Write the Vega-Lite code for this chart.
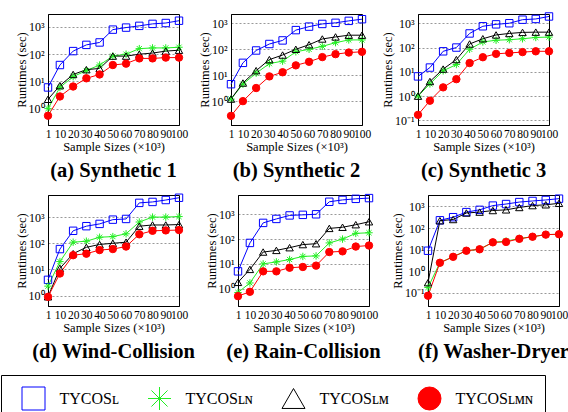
{
  "$schema": "https://vega.github.io/schema/vega-lite/v6.json",
  "background": "white",
  "padding": {"left": 0, "top": 10, "right": 0, "bottom": 0},
  "data": {"values": [
    {"p":"a","x":1,"L":6,"LN":1.0,"LM":2.2,"LMN":0.55},
    {"p":"a","x":10,"L":40,"LN":6,"LM":7,"LMN":2.8},
    {"p":"a","x":20,"L":130,"LN":15,"LM":18,"LMN":6.5},
    {"p":"a","x":30,"L":220,"LN":25,"LM":27,"LMN":13},
    {"p":"a","x":40,"L":270,"LN":40,"LM":30,"LMN":18},
    {"p":"a","x":50,"L":800,"LN":85,"LM":85,"LMN":40},
    {"p":"a","x":60,"L":950,"LN":100,"LM":85,"LMN":45},
    {"p":"a","x":70,"L":1100,"LN":160,"LM":100,"LMN":70},
    {"p":"a","x":80,"L":1300,"LN":170,"LM":110,"LMN":70},
    {"p":"a","x":90,"L":1400,"LN":170,"LM":130,"LMN":75},
    {"p":"a","x":100,"L":1700,"LN":180,"LM":140,"LMN":75},
    {"p":"b","x":1,"L":4.5,"LN":1.2,"LM":1.2,"LMN":0.27},
    {"p":"b","x":10,"L":30,"LN":4.5,"LM":5,"LMN":1.0},
    {"p":"b","x":20,"L":90,"LN":12,"LM":15,"LMN":3.2},
    {"p":"b","x":30,"L":160,"LN":28,"LM":40,"LMN":9},
    {"p":"b","x":40,"L":220,"LN":35,"LM":60,"LMN":13},
    {"p":"b","x":50,"L":550,"LN":80,"LM":100,"LMN":24},
    {"p":"b","x":60,"L":750,"LN":100,"LM":150,"LMN":33},
    {"p":"b","x":70,"L":950,"LN":130,"LM":250,"LMN":50},
    {"p":"b","x":80,"L":1050,"LN":180,"LM":300,"LMN":65},
    {"p":"b","x":90,"L":1250,"LN":230,"LM":350,"LMN":75},
    {"p":"b","x":100,"L":1450,"LN":230,"LM":350,"LMN":80},
    {"p":"c","x":1,"L":6.5,"LN":1.0,"LM":1.0,"LMN":0.17},
    {"p":"c","x":10,"L":15,"LN":3.2,"LM":4,"LMN":0.65},
    {"p":"c","x":20,"L":70,"LN":11,"LM":13,"LMN":2.3},
    {"p":"c","x":30,"L":100,"LN":20,"LM":32,"LMN":5},
    {"p":"c","x":40,"L":380,"LN":85,"LM":140,"LMN":23},
    {"p":"c","x":50,"L":750,"LN":170,"LM":230,"LMN":40},
    {"p":"c","x":60,"L":900,"LN":200,"LM":330,"LMN":55},
    {"p":"c","x":70,"L":1000,"LN":210,"LM":380,"LMN":60},
    {"p":"c","x":80,"L":1400,"LN":230,"LM":420,"LMN":65},
    {"p":"c","x":90,"L":1500,"LN":260,"LM":430,"LMN":70},
    {"p":"c","x":100,"L":1900,"LN":270,"LM":430,"LMN":70},
    {"p":"d","x":1,"L":4,"LN":2.3,"LM":0.9,"LMN":0.9},
    {"p":"d","x":10,"L":60,"LN":20,"LM":11,"LMN":7},
    {"p":"d","x":20,"L":300,"LN":110,"LM":40,"LMN":35},
    {"p":"d","x":30,"L":450,"LN":120,"LM":70,"LMN":40},
    {"p":"d","x":40,"L":550,"LN":170,"LM":90,"LMN":55},
    {"p":"d","x":50,"L":800,"LN":180,"LM":100,"LMN":60},
    {"p":"d","x":60,"L":850,"LN":230,"LM":110,"LMN":75},
    {"p":"d","x":70,"L":3500,"LN":650,"LM":450,"LMN":220},
    {"p":"d","x":80,"L":3800,"LN":1000,"LM":500,"LMN":300},
    {"p":"d","x":90,"L":4500,"LN":1000,"LM":500,"LMN":310},
    {"p":"d","x":100,"L":5500,"LN":1050,"LM":520,"LMN":320},
    {"p":"e","x":1,"L":5,"LN":0.7,"LM":1.8,"LMN":0.5},
    {"p":"e","x":10,"L":70,"LN":1.7,"LM":6,"LMN":0.75},
    {"p":"e","x":20,"L":450,"LN":10,"LM":30,"LMN":5},
    {"p":"e","x":30,"L":650,"LN":12,"LM":35,"LMN":5},
    {"p":"e","x":40,"L":900,"LN":15,"LM":45,"LMN":7},
    {"p":"e","x":50,"L":950,"LN":20,"LM":60,"LMN":7.5},
    {"p":"e","x":60,"L":1000,"LN":21,"LM":65,"LMN":8.5},
    {"p":"e","x":70,"L":3200,"LN":70,"LM":270,"LMN":30},
    {"p":"e","x":80,"L":3800,"LN":100,"LM":300,"LMN":32},
    {"p":"e","x":90,"L":4200,"LN":170,"LM":380,"LMN":50},
    {"p":"e","x":100,"L":4500,"LN":180,"LM":500,"LMN":55},
    {"p":"f","x":1,"L":9,"LN":0.18,"LM":0.3,"LMN":0.075},
    {"p":"f","x":10,"L":230,"LN":2.5,"LM":220,"LMN":2.5},
    {"p":"f","x":20,"L":320,"LN":4.8,"LM":250,"LMN":4.7},
    {"p":"f","x":30,"L":550,"LN":9,"LM":500,"LMN":9},
    {"p":"f","x":40,"L":700,"LN":10.5,"LM":550,"LMN":10.5},
    {"p":"f","x":50,"L":1100,"LN":22,"LM":650,"LMN":22},
    {"p":"f","x":60,"L":1300,"LN":25,"LM":700,"LMN":23},
    {"p":"f","x":70,"L":1600,"LN":33,"LM":900,"LMN":32},
    {"p":"f","x":80,"L":1800,"LN":40,"LM":1100,"LMN":40},
    {"p":"f","x":90,"L":2000,"LN":50,"LM":1200,"LMN":50},
    {"p":"f","x":100,"L":2300,"LN":52,"LM":1400,"LMN":52}
  ]},
  "transform": [{"fold": ["L", "LN", "LM", "LMN"], "as": ["series", "y"]}],
  "spacing": 9,
  "resolve": {"scale": {"x": "independent", "y": "independent"}},
  "vconcat": [
    {
      "spacing": 8,
      "resolve": {"scale": {"x": "independent", "y": "independent"}},
      "hconcat": [
        {
          "width": 131, "height": 111,
          "title": {"text": "(a) Synthetic 1"},
          "transform": [{"filter": "datum.p === 'a'"}],
          "encoding": {
            "x": {"field": "x", "type": "quantitative", "scale": {"domain": [1, 100], "nice": false, "zero": false}, "axis": {"values": [1,10,20,30,40,50,60,70,80,90,100], "title": "Sample Sizes (×10³)"}},
            "y": {"field": "y", "type": "quantitative", "scale": {"type": "log", "domain": [0.25, 3000], "nice": false}, "axis": {"values": [1,10,100,1000], "title": "Runtimes (sec)", "labelExpr": "datum.value < 0.5 ? '10⁻¹' : datum.value < 5 ? '10⁰' : datum.value < 50 ? '10¹' : datum.value < 500 ? '10²' : '10³'"}},
            "stroke": {"field": "series", "type": "nominal", "scale": {"domain": ["L","LN","LM","LMN"], "range": ["#0000ff","#22ee22","#000000","#ff0000"]},
              "legend": {"title": null, "labelExpr": "datum.value === 'L' ? 'TYCOSʟ' : datum.value === 'LN' ? 'TYCOSʟɴ' : datum.value === 'LM' ? 'TYCOSʟᴍ' : 'TYCOSʟᴍɴ'",
                "encode": {"symbols": {"update": {
                  "shape": {"signal": "datum.value === 'L' ? 'M-1.96,0H1.96M-1,-1H1V1H-1Z' : datum.value === 'LN' ? 'M-1.96,0H1.96M0,-0.95V0.95M-0.65,-0.55L0.65,0.55M-0.65,0.55L0.65,-0.55' : datum.value === 'LM' ? 'M-1.96,0H1.96M0,-1.48L1.35,0.52H-1.35Z' : 'M-1.96,0H1.96M0.91,0A0.91,0.91,0,1,1,-0.91,0A0.91,0.91,0,1,1,0.91,0Z'"},
                  "fill": {"signal": "datum.value === 'LMN' ? '#ff0000' : 'transparent'"},
                  "strokeWidth": {"value": 1}
                }}}}}
          },
          "layer": [
            {"mark": {"type": "line", "strokeWidth": 1}},
            {"mark": {"type": "point", "size": 55, "strokeWidth": 1, "opacity": 1},
             "encoding": {
               "shape": {"field": "series", "type": "nominal", "scale": {"domain": ["L","LN","LM","LMN"], "range": ["square","M-1,0H1M0,-1V1M-0.7,-0.7L0.7,0.7M-0.7,0.7L0.7,-0.7","triangle-up","circle"]}, "legend": null},
               "fill": {"field": "series", "type": "nominal", "scale": {"domain": ["L","LN","LM","LMN"], "range": ["transparent","transparent","transparent","#ff0000"]}, "legend": null}
             }}
          ]
        },
        {
          "width": 131, "height": 111,
          "title": {"text": "(b) Synthetic 2"},
          "transform": [{"filter": "datum.p === 'b'"}],
          "encoding": {
            "x": {"field": "x", "type": "quantitative", "scale": {"domain": [1, 100], "nice": false, "zero": false}, "axis": {"values": [1,10,20,30,40,50,60,70,80,90,100], "title": "Sample Sizes (×10³)"}},
            "y": {"field": "y", "type": "quantitative", "scale": {"type": "log", "domain": [0.12, 2300], "nice": false}, "axis": {"values": [1,10,100,1000], "title": "Runtimes (sec)", "labelExpr": "datum.value < 0.5 ? '10⁻¹' : datum.value < 5 ? '10⁰' : datum.value < 50 ? '10¹' : datum.value < 500 ? '10²' : '10³'"}},
            "stroke": {"field": "series", "type": "nominal", "scale": {"domain": ["L","LN","LM","LMN"], "range": ["#0000ff","#22ee22","#000000","#ff0000"]},
              "legend": {"title": null, "labelExpr": "datum.value === 'L' ? 'TYCOSʟ' : datum.value === 'LN' ? 'TYCOSʟɴ' : datum.value === 'LM' ? 'TYCOSʟᴍ' : 'TYCOSʟᴍɴ'",
                "encode": {"symbols": {"update": {
                  "shape": {"signal": "datum.value === 'L' ? 'M-1.96,0H1.96M-1,-1H1V1H-1Z' : datum.value === 'LN' ? 'M-1.96,0H1.96M0,-0.95V0.95M-0.65,-0.55L0.65,0.55M-0.65,0.55L0.65,-0.55' : datum.value === 'LM' ? 'M-1.96,0H1.96M0,-1.48L1.35,0.52H-1.35Z' : 'M-1.96,0H1.96M0.91,0A0.91,0.91,0,1,1,-0.91,0A0.91,0.91,0,1,1,0.91,0Z'"},
                  "fill": {"signal": "datum.value === 'LMN' ? '#ff0000' : 'transparent'"},
                  "strokeWidth": {"value": 1}
                }}}}}
          },
          "layer": [
            {"mark": {"type": "line", "strokeWidth": 1}},
            {"mark": {"type": "point", "size": 55, "strokeWidth": 1, "opacity": 1},
             "encoding": {
               "shape": {"field": "series", "type": "nominal", "scale": {"domain": ["L","LN","LM","LMN"], "range": ["square","M-1,0H1M0,-1V1M-0.7,-0.7L0.7,0.7M-0.7,0.7L0.7,-0.7","triangle-up","circle"]}, "legend": null},
               "fill": {"field": "series", "type": "nominal", "scale": {"domain": ["L","LN","LM","LMN"], "range": ["transparent","transparent","transparent","#ff0000"]}, "legend": null}
             }}
          ]
        },
        {
          "width": 131, "height": 111,
          "title": {"text": "(c) Synthetic 3"},
          "transform": [{"filter": "datum.p === 'c'"}],
          "encoding": {
            "x": {"field": "x", "type": "quantitative", "scale": {"domain": [1, 100], "nice": false, "zero": false}, "axis": {"values": [1,10,20,30,40,50,60,70,80,90,100], "title": "Sample Sizes (×10³)"}},
            "y": {"field": "y", "type": "quantitative", "scale": {"type": "log", "domain": [0.065, 2400], "nice": false}, "axis": {"values": [0.1,1,10,100,1000], "title": "Runtimes (sec)", "labelExpr": "datum.value < 0.5 ? '10⁻¹' : datum.value < 5 ? '10⁰' : datum.value < 50 ? '10¹' : datum.value < 500 ? '10²' : '10³'"}},
            "stroke": {"field": "series", "type": "nominal", "scale": {"domain": ["L","LN","LM","LMN"], "range": ["#0000ff","#22ee22","#000000","#ff0000"]},
              "legend": {"title": null, "labelExpr": "datum.value === 'L' ? 'TYCOSʟ' : datum.value === 'LN' ? 'TYCOSʟɴ' : datum.value === 'LM' ? 'TYCOSʟᴍ' : 'TYCOSʟᴍɴ'",
                "encode": {"symbols": {"update": {
                  "shape": {"signal": "datum.value === 'L' ? 'M-1.96,0H1.96M-1,-1H1V1H-1Z' : datum.value === 'LN' ? 'M-1.96,0H1.96M0,-0.95V0.95M-0.65,-0.55L0.65,0.55M-0.65,0.55L0.65,-0.55' : datum.value === 'LM' ? 'M-1.96,0H1.96M0,-1.48L1.35,0.52H-1.35Z' : 'M-1.96,0H1.96M0.91,0A0.91,0.91,0,1,1,-0.91,0A0.91,0.91,0,1,1,0.91,0Z'"},
                  "fill": {"signal": "datum.value === 'LMN' ? '#ff0000' : 'transparent'"},
                  "strokeWidth": {"value": 1}
                }}}}}
          },
          "layer": [
            {"mark": {"type": "line", "strokeWidth": 1}},
            {"mark": {"type": "point", "size": 55, "strokeWidth": 1, "opacity": 1},
             "encoding": {
               "shape": {"field": "series", "type": "nominal", "scale": {"domain": ["L","LN","LM","LMN"], "range": ["square","M-1,0H1M0,-1V1M-0.7,-0.7L0.7,0.7M-0.7,0.7L0.7,-0.7","triangle-up","circle"]}, "legend": null},
               "fill": {"field": "series", "type": "nominal", "scale": {"domain": ["L","LN","LM","LMN"], "range": ["transparent","transparent","transparent","#ff0000"]}, "legend": null}
             }}
          ]
        }
      ]
    },
    {
      "spacing": 8,
      "resolve": {"scale": {"x": "independent", "y": "independent"}},
      "hconcat": [
        {
          "width": 131, "height": 111,
          "title": {"text": "(d) Wind-Collision"},
          "transform": [{"filter": "datum.p === 'd'"}],
          "encoding": {
            "x": {"field": "x", "type": "quantitative", "scale": {"domain": [1, 100], "nice": false, "zero": false}, "axis": {"values": [1,10,20,30,40,50,60,70,80,90,100], "title": "Sample Sizes (×10³)"}},
            "y": {"field": "y", "type": "quantitative", "scale": {"type": "log", "domain": [0.4, 7000], "nice": false}, "axis": {"values": [1,10,100,1000], "title": "Runtimes (sec)", "labelExpr": "datum.value < 0.5 ? '10⁻¹' : datum.value < 5 ? '10⁰' : datum.value < 50 ? '10¹' : datum.value < 500 ? '10²' : '10³'"}},
            "stroke": {"field": "series", "type": "nominal", "scale": {"domain": ["L","LN","LM","LMN"], "range": ["#0000ff","#22ee22","#000000","#ff0000"]},
              "legend": {"title": null, "labelExpr": "datum.value === 'L' ? 'TYCOSʟ' : datum.value === 'LN' ? 'TYCOSʟɴ' : datum.value === 'LM' ? 'TYCOSʟᴍ' : 'TYCOSʟᴍɴ'",
                "encode": {"symbols": {"update": {
                  "shape": {"signal": "datum.value === 'L' ? 'M-1.96,0H1.96M-1,-1H1V1H-1Z' : datum.value === 'LN' ? 'M-1.96,0H1.96M0,-0.95V0.95M-0.65,-0.55L0.65,0.55M-0.65,0.55L0.65,-0.55' : datum.value === 'LM' ? 'M-1.96,0H1.96M0,-1.48L1.35,0.52H-1.35Z' : 'M-1.96,0H1.96M0.91,0A0.91,0.91,0,1,1,-0.91,0A0.91,0.91,0,1,1,0.91,0Z'"},
                  "fill": {"signal": "datum.value === 'LMN' ? '#ff0000' : 'transparent'"},
                  "strokeWidth": {"value": 1}
                }}}}}
          },
          "layer": [
            {"mark": {"type": "line", "strokeWidth": 1}},
            {"mark": {"type": "point", "size": 55, "strokeWidth": 1, "opacity": 1},
             "encoding": {
               "shape": {"field": "series", "type": "nominal", "scale": {"domain": ["L","LN","LM","LMN"], "range": ["square","M-1,0H1M0,-1V1M-0.7,-0.7L0.7,0.7M-0.7,0.7L0.7,-0.7","triangle-up","circle"]}, "legend": null},
               "fill": {"field": "series", "type": "nominal", "scale": {"domain": ["L","LN","LM","LMN"], "range": ["transparent","transparent","transparent","#ff0000"]}, "legend": null}
             }}
          ]
        },
        {
          "width": 131, "height": 111,
          "title": {"text": "(e) Rain-Collision"},
          "transform": [{"filter": "datum.p === 'e'"}],
          "encoding": {
            "x": {"field": "x", "type": "quantitative", "scale": {"domain": [1, 100], "nice": false, "zero": false}, "axis": {"values": [1,10,20,30,40,50,60,70,80,90,100], "title": "Sample Sizes (×10³)"}},
            "y": {"field": "y", "type": "quantitative", "scale": {"type": "log", "domain": [0.2, 6000], "nice": false}, "axis": {"values": [1,10,100,1000], "title": "Runtimes (sec)", "labelExpr": "datum.value < 0.5 ? '10⁻¹' : datum.value < 5 ? '10⁰' : datum.value < 50 ? '10¹' : datum.value < 500 ? '10²' : '10³'"}},
            "stroke": {"field": "series", "type": "nominal", "scale": {"domain": ["L","LN","LM","LMN"], "range": ["#0000ff","#22ee22","#000000","#ff0000"]},
              "legend": {"title": null, "labelExpr": "datum.value === 'L' ? 'TYCOSʟ' : datum.value === 'LN' ? 'TYCOSʟɴ' : datum.value === 'LM' ? 'TYCOSʟᴍ' : 'TYCOSʟᴍɴ'",
                "encode": {"symbols": {"update": {
                  "shape": {"signal": "datum.value === 'L' ? 'M-1.96,0H1.96M-1,-1H1V1H-1Z' : datum.value === 'LN' ? 'M-1.96,0H1.96M0,-0.95V0.95M-0.65,-0.55L0.65,0.55M-0.65,0.55L0.65,-0.55' : datum.value === 'LM' ? 'M-1.96,0H1.96M0,-1.48L1.35,0.52H-1.35Z' : 'M-1.96,0H1.96M0.91,0A0.91,0.91,0,1,1,-0.91,0A0.91,0.91,0,1,1,0.91,0Z'"},
                  "fill": {"signal": "datum.value === 'LMN' ? '#ff0000' : 'transparent'"},
                  "strokeWidth": {"value": 1}
                }}}}}
          },
          "layer": [
            {"mark": {"type": "line", "strokeWidth": 1}},
            {"mark": {"type": "point", "size": 55, "strokeWidth": 1, "opacity": 1},
             "encoding": {
               "shape": {"field": "series", "type": "nominal", "scale": {"domain": ["L","LN","LM","LMN"], "range": ["square","M-1,0H1M0,-1V1M-0.7,-0.7L0.7,0.7M-0.7,0.7L0.7,-0.7","triangle-up","circle"]}, "legend": null},
               "fill": {"field": "series", "type": "nominal", "scale": {"domain": ["L","LN","LM","LMN"], "range": ["transparent","transparent","transparent","#ff0000"]}, "legend": null}
             }}
          ]
        },
        {
          "width": 131, "height": 111,
          "title": {"text": "(f) Washer-Dryer"},
          "transform": [{"filter": "datum.p === 'f'"}],
          "encoding": {
            "x": {"field": "x", "type": "quantitative", "scale": {"domain": [1, 100], "nice": false, "zero": false}, "axis": {"values": [1,10,20,30,40,50,60,70,80,90,100], "title": "Sample Sizes (×10³)"}},
            "y": {"field": "y", "type": "quantitative", "scale": {"type": "log", "domain": [0.025, 3400], "nice": false}, "axis": {"values": [0.1,1,10,100,1000], "title": "Runtimes (sec)", "labelExpr": "datum.value < 0.5 ? '10⁻¹' : datum.value < 5 ? '10⁰' : datum.value < 50 ? '10¹' : datum.value < 500 ? '10²' : '10³'"}},
            "stroke": {"field": "series", "type": "nominal", "scale": {"domain": ["L","LN","LM","LMN"], "range": ["#0000ff","#22ee22","#000000","#ff0000"]},
              "legend": {"title": null, "labelExpr": "datum.value === 'L' ? 'TYCOSʟ' : datum.value === 'LN' ? 'TYCOSʟɴ' : datum.value === 'LM' ? 'TYCOSʟᴍ' : 'TYCOSʟᴍɴ'",
                "encode": {"symbols": {"update": {
                  "shape": {"signal": "datum.value === 'L' ? 'M-1.96,0H1.96M-1,-1H1V1H-1Z' : datum.value === 'LN' ? 'M-1.96,0H1.96M0,-0.95V0.95M-0.65,-0.55L0.65,0.55M-0.65,0.55L0.65,-0.55' : datum.value === 'LM' ? 'M-1.96,0H1.96M0,-1.48L1.35,0.52H-1.35Z' : 'M-1.96,0H1.96M0.91,0A0.91,0.91,0,1,1,-0.91,0A0.91,0.91,0,1,1,0.91,0Z'"},
                  "fill": {"signal": "datum.value === 'LMN' ? '#ff0000' : 'transparent'"},
                  "strokeWidth": {"value": 1}
                }}}}}
          },
          "layer": [
            {"mark": {"type": "line", "strokeWidth": 1}},
            {"mark": {"type": "point", "size": 55, "strokeWidth": 1, "opacity": 1},
             "encoding": {
               "shape": {"field": "series", "type": "nominal", "scale": {"domain": ["L","LN","LM","LMN"], "range": ["square","M-1,0H1M0,-1V1M-0.7,-0.7L0.7,0.7M-0.7,0.7L0.7,-0.7","triangle-up","circle"]}, "legend": null},
               "fill": {"field": "series", "type": "nominal", "scale": {"domain": ["L","LN","LM","LMN"], "range": ["transparent","transparent","transparent","#ff0000"]}, "legend": null}
             }}
          ]
        }
      ]
    }
  ],
  "config": {
    "view": {"stroke": "black", "strokeWidth": 1},
    "font": "Liberation Serif",
    "axis": {"labelFont": "Liberation Serif", "titleFont": "Liberation Serif", "labelFontSize": 11.5, "titleFontSize": 12.5, "titleFontWeight": "normal", "labelColor": "black", "titleColor": "black", "domainColor": "black", "tickColor": "black", "ticks": false, "gridColor": "#999999", "gridDash": [2, 2], "labelPadding": 3},
    "axisX": {"grid": false, "labelOverlap": false, "labelFlush": false, "labelAngle": 0, "titlePadding": 1},
    "axisY": {"grid": true, "titlePadding": 0, "labelFontSize": 12, "labelPadding": 4},
    "title": {"orient": "bottom", "font": "Liberation Serif", "fontSize": 20.5, "fontWeight": "bold", "color": "black", "offset": 8},
    "legend": {"orient": "none", "legendX": -47, "legendY": 361, "direction": "horizontal", "columns": 4, "gridAlign": "none", "symbolSize": 529, "symbolStrokeWidth": 1, "symbolOffset": 9, "labelOffset": 14, "columnPadding": 19, "labelFont": "Liberation Serif", "labelFontSize": 16, "labelColor": "black", "padding": 11.5, "strokeColor": "black", "fillColor": "white"}
  }
}
